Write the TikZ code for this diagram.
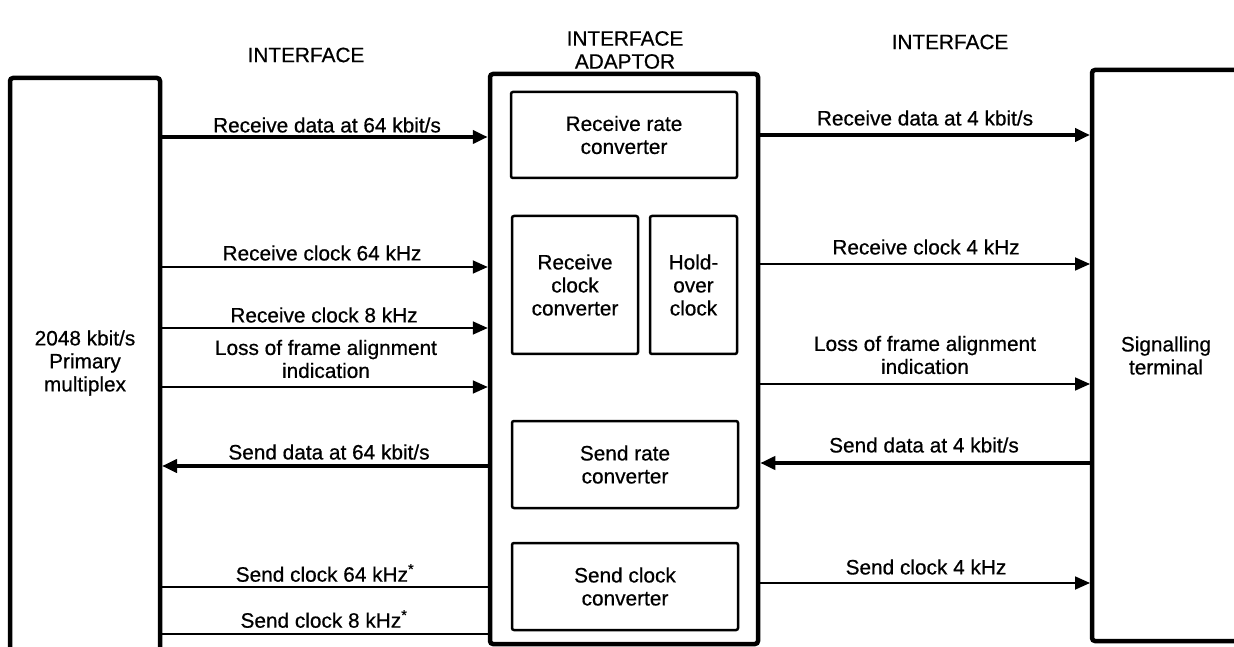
\documentclass[tikz,border=0pt]{standalone}
\usepackage{fontspec}
\setmainfont{Liberation Sans}[FakeBold=0.6]
\usetikzlibrary{arrows.meta}
\begin{document}
\begin{tikzpicture}[x=1pt,y=1pt,
  every node/.style={font=\fontsize{20.8}{23}\selectfont, inner sep=0pt},
  outerbox/.style={line width=4.5pt, rounded corners=3pt},
  innerbox/.style={draw, line width=2.5pt, rounded corners=2pt, align=center},
  thinln/.style={line width=1.8pt},
  thickln/.style={line width=4pt},
  tipr/.style={-{Triangle[length=15pt,width=13pt]}},
  tipl/.style={{Triangle[length=15pt,width=13pt]}-},
  lbl/.style={align=center}
]
\useasboundingbox (0,0) rectangle (1234,646);

% headers
\node[lbl] (h1) at (306,591) {INTERFACE};
\node[lbl] (h2) at (625,596) {INTERFACE\\ADAPTOR};
\node[lbl] (h3) at (950,604) {INTERFACE};

% outer blocks
\node[minimum width=150pt, minimum height=570pt, outer sep=0pt, align=center] (mux) at (85,283) {2048 kbit/s\\Primary\\multiplex};
\draw[outerbox] (mux.south west) -- (mux.north west) -- (mux.north east) -- (mux.south east);

\node[draw, outerbox, minimum width=268pt, minimum height=570pt] (ada) at (624,287) {};

\node[minimum width=148pt, minimum height=571pt, outer sep=0pt, align=center] (sig) at (1166,290.5) {Signalling\\terminal};
\draw[outerbox] (sig.north east) -- (sig.north west) -- (sig.south west) -- (sig.south east);

% inner blocks
\node[innerbox, minimum width=226pt, minimum height=86pt] (rr) at (624,511) {Receive rate\\converter};
\node[innerbox, minimum width=126pt, minimum height=138pt] (rc) at (575,361) {Receive\\clock\\converter};
\node[innerbox, minimum width=87pt, minimum height=138pt] (ho) at (693.5,361) {Hold-\\over\\clock};
\node[innerbox, minimum width=226pt, minimum height=87pt] (sr) at (625,181.5) {Send rate\\converter};
\node[innerbox, minimum width=226pt, minimum height=87pt] (sc) at (625,59.5) {Send clock\\converter};

% left interface
\draw[thickln, tipr] (mux.east |- 0,509) -- (ada.west |- 0,509);
\draw[thinln, tipr] (mux.east |- 0,379) -- (ada.west |- 0,379);
\draw[thinln, tipr] (mux.east |- 0,318) -- (ada.west |- 0,318);
\draw[thinln, tipr] (mux.east |- 0,259) -- (ada.west |- 0,259);
\draw[thickln, tipl, shorten <=2pt] (mux.east |- 0,180) -- (ada.west |- 0,180);
\draw[thinln] (mux.east |- 0,59) -- (ada.west |- 0,59);
\draw[thinln] (mux.east |- 0,12) -- (ada.west |- 0,12);

\node[lbl] (l1) at (327,521) {Receive data at 64 kbit/s};
\node[lbl] (l2) at (322,393) {Receive clock 64 kHz};
\node[lbl] (l3) at (324,331) {Receive clock 8 kHz};
\node[lbl] (l4) at (326,287) {Loss of frame alignment\\indication};
\node[lbl] (l5) at (329,194) {Send data at 64 kbit/s};
\node[lbl] (l6) at (325,73) {Send clock 64 kHz\textsuperscript{*}};
\node[lbl] (l7) at (324,27) {Send clock 8 kHz\textsuperscript{*}};

% right interface
\draw[thickln, tipr, shorten >=2pt] (ada.east |- 0,511) -- (sig.west |- 0,511);
\draw[thinln, tipr, shorten >=2pt] (ada.east |- 0,382) -- (sig.west |- 0,382);
\draw[thinln, tipr, shorten >=2pt] (ada.east |- 0,262) -- (sig.west |- 0,262);
\draw[thickln, tipl] (ada.east |- 0,183) -- (sig.west |- 0,183);
\draw[thinln, tipr, shorten >=2pt] (ada.east |- 0,63) -- (sig.west |- 0,63);

\node[lbl] (r1) at (925,528) {Receive data at 4 kbit/s};
\node[lbl] (r2) at (926,399) {Receive clock 4 kHz};
\node[lbl] (r3) at (925,291) {Loss of frame alignment\\indication};
\node[lbl] (r4) at (924,201) {Send data at 4 kbit/s};
\node[lbl] (r5) at (926,79) {Send clock 4 kHz};
\end{tikzpicture}
\end{document}
